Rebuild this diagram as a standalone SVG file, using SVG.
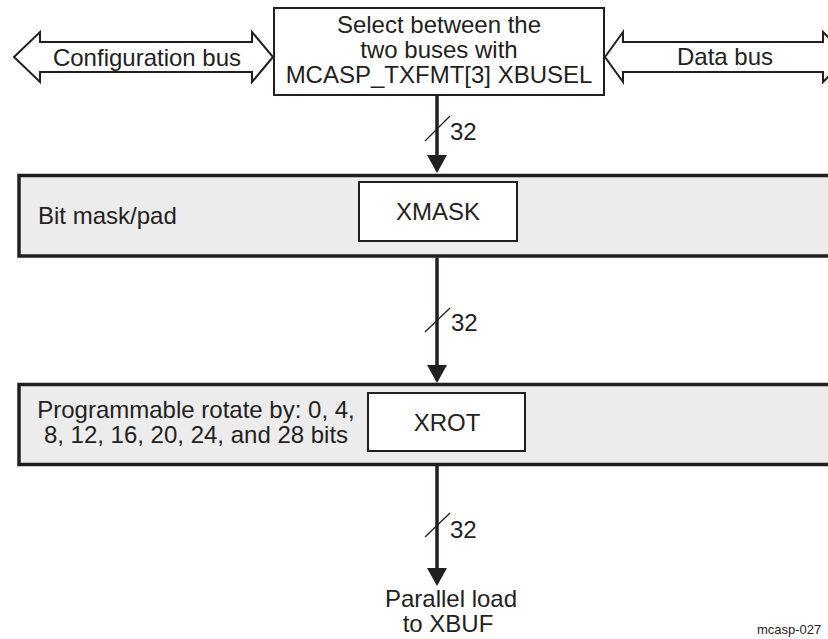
<svg xmlns="http://www.w3.org/2000/svg" width="828" height="639" viewBox="0 0 828 639">
<style>
text{font-family:"Liberation Sans",Arial,sans-serif;font-size:24px;fill:#231f20}
.c{text-anchor:middle}
.box{fill:#fff;stroke:#231f20;stroke-width:2}
.band{fill:#ececec;stroke:#231f20;stroke-width:3.5}
.bus{fill:#fff;stroke:#231f20;stroke-width:2;stroke-linejoin:miter}
.wire{stroke:#231f20;stroke-width:3.5;fill:none}
.slash{stroke:#231f20;stroke-width:1.3}
</style>
<defs>
<marker id="ah" markerUnits="userSpaceOnUse" markerWidth="18" markerHeight="20" refX="0" refY="10" orient="auto" viewBox="0 0 18 20">
<path d="M0,0 L18,10 L0,20 z" fill="#231f20"/>
</marker>
</defs>
<g id="config-bus">
<polygon class="bus" points="14,57 40,32 40,42 252,42 252,32 273,57 252,82 252,72 40,72 40,82"/>
<text class="c" x="147" y="66">Configuration bus</text>
</g>
<g id="data-bus">
<polygon class="bus" points="605,57 623,32 623,42 823,42 823,32 848,57 823,82 823,72 623,72 623,82"/>
<text class="c" x="725" y="65">Data bus</text>
</g>
<g id="select">
<rect class="box" x="274" y="8" width="330" height="87"/>
<text class="c" x="439" y="33">Select between the</text>
<text class="c" x="439" y="58">two buses with</text>
<text class="c" x="439" y="83">MCASP_TXFMT[3] XBUSEL</text>
</g>
<g id="bitmask">
<rect class="band" x="19" y="175.5" width="830" height="80.5"/>
<text x="38" y="224">Bit mask/pad</text>
</g>
<g id="xmask">
<rect class="box" x="359" y="182" width="158" height="59"/>
<text class="c" x="438" y="220">XMASK</text>
</g>
<g id="rotate">
<rect class="band" x="19" y="384.5" width="830" height="80"/>
<text class="c" x="196" y="418">Programmable rotate by: 0, 4,</text>
<text class="c" x="196" y="443">8, 12, 16, 20, 24, and 28 bits</text>
</g>
<g id="xrot">
<rect class="box" x="368" y="393" width="157" height="58"/>
<text class="c" x="447" y="431">XROT</text>
</g>
<g id="xbuf">
<text class="c" x="451" y="607">Parallel load</text>
<text class="c" x="448" y="632">to XBUF</text>
</g>
<g id="connectors">
<line class="wire" x1="437" y1="95" x2="437" y2="155" marker-end="url(#ah)"/>
<line class="slash" x1="425" y1="141" x2="450" y2="116"/>
<text x="450" y="140">32</text>
<line class="wire" x1="437" y1="257.5" x2="437" y2="365" marker-end="url(#ah)"/>
<line class="slash" x1="425" y1="332" x2="450" y2="308"/>
<text x="451" y="331">32</text>
<line class="wire" x1="437" y1="466" x2="437" y2="568" marker-end="url(#ah)"/>
<line class="slash" x1="425" y1="537" x2="450" y2="513"/>
<text x="450" y="538">32</text>
</g>
<text x="757" y="634" style="font-size:13px">mcasp-027</text>
</svg>
